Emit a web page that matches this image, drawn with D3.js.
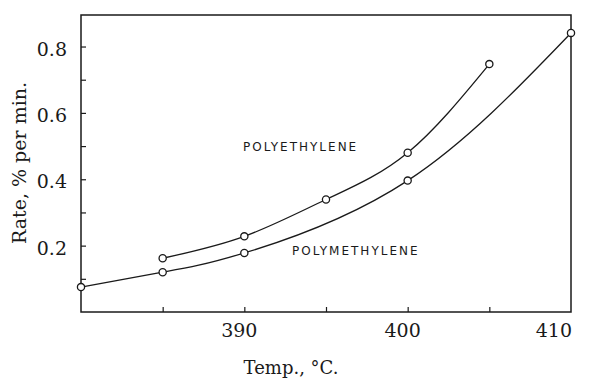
<!DOCTYPE html>
<html><head><meta charset="utf-8">
<script src="https://cdn.jsdelivr.net/npm/d3@7/dist/d3.min.js"></script>
<style>
html,body{margin:0;padding:0;background:#fff;}
svg{display:block;}
</style></head>
<body>
<svg id="chart" width="591" height="382"></svg>
<script>
// Data
const tempPolyethylene = [385, 390, 395, 400, 405];
const ratePolyethylene = [0.162, 0.228, 0.339, 0.480, 0.747];
const tempPolymethylene = [380, 385, 390, 400, 410];
const ratePolymethylene = [0.075, 0.120, 0.178, 0.396, 0.841];
const xTicks = [385, 390, 395, 400, 405];
const xTickLabels = [390, 400, 410];
const yTicks = [0.1, 0.2, 0.3, 0.4, 0.5, 0.6, 0.7, 0.8];
const yTickLabels = [0.2, 0.4, 0.6, 0.8];
const seriesLabels = ["POLYETHYLENE", "POLYMETHYLENE"];

const svg = d3.select("#chart");
const mLeft = 81, mRight = 571, mTop = 15, mBottom = 312;
const x = d3.scaleLinear().domain([380, 410]).range([mLeft, mRight]);
const y = d3.scaleLinear().domain([0, 0.895]).range([mBottom, mTop]);
const ink = "#1a1a1a";
const serif = "'DejaVu Serif', 'Liberation Serif', serif";

// frame
svg.append("rect").attr("x", mLeft).attr("y", mTop)
  .attr("width", mRight - mLeft).attr("height", mBottom - mTop)
  .attr("fill", "none").attr("stroke", ink).attr("stroke-width", 1.5);

// bottom axis ticks (inward)
const xAxis = d3.axisBottom(x).tickValues(xTicks).tickSize(-5).tickFormat("");
const gx = svg.append("g").attr("transform", `translate(0,${mBottom})`).call(xAxis);
gx.select(".domain").remove();
gx.selectAll("line").attr("stroke", ink).attr("stroke-width", 1.2);

// x labels
svg.append("g").selectAll("text").data(xTickLabels).join("text")
  .attr("x", d => x(d) - (d === 410 ? -1 : 5))
  .attr("y", 337)
  .attr("text-anchor", d => d === 410 ? "end" : "middle")
  .attr("font-family", serif).attr("font-size", 19).attr("fill", ink)
  .text(d => d);

// left axis ticks (inward)
const yAxis = d3.axisLeft(y).tickValues(yTicks).tickSize(-5).tickFormat("");
const gy = svg.append("g").attr("transform", `translate(${mLeft},0)`).call(yAxis);
gy.select(".domain").remove();
gy.selectAll("line").attr("stroke", ink).attr("stroke-width", 1.2);

svg.append("g").selectAll("text").data(yTickLabels).join("text")
  .attr("x", 67).attr("y", d => y(d) + 9)
  .attr("text-anchor", "end")
  .attr("font-family", serif).attr("font-size", 19).attr("fill", ink)
  .text(d => d.toFixed(1));

// axis titles
svg.append("text").attr("x", 291).attr("y", 374).attr("text-anchor", "middle")
  .attr("font-family", serif).attr("font-size", 18).attr("fill", ink)
  .text("Temp., °C.");
svg.append("text").attr("transform", "translate(26,163) rotate(-90)")
  .attr("text-anchor", "middle")
  .attr("font-family", serif).attr("font-size", 19).attr("fill", ink)
  .text("Rate, % per min.");

// curves
const line = d3.line().x(d => x(d[0])).y(d => y(d[1])).curve(d3.curveNatural);
const pe = tempPolyethylene.map((t, i) => [t, ratePolyethylene[i]]);
const pm = tempPolymethylene.map((t, i) => [t, ratePolymethylene[i]]);
[pe, pm].forEach(data => {
  svg.append("path").datum(data).attr("d", line)
    .attr("fill", "none").attr("stroke", ink).attr("stroke-width", 1.3);
  svg.append("g").selectAll("circle").data(data).join("circle")
    .attr("cx", d => x(d[0])).attr("cy", d => y(d[1])).attr("r", 3.6)
    .attr("fill", "#fff").attr("stroke", ink).attr("stroke-width", 1.3);
});

// series labels
svg.append("text").attr("x", 243).attr("y", 151)
  .attr("font-family", "'DejaVu Sans', sans-serif").attr("font-size", 12)
  .attr("letter-spacing", 2).attr("fill", ink).text(seriesLabels[0]);
svg.append("text").attr("x", 292).attr("y", 255)
  .attr("font-family", "'DejaVu Sans', sans-serif").attr("font-size", 12)
  .attr("letter-spacing", 2).attr("fill", ink).text(seriesLabels[1]);
</script>
</body></html>
